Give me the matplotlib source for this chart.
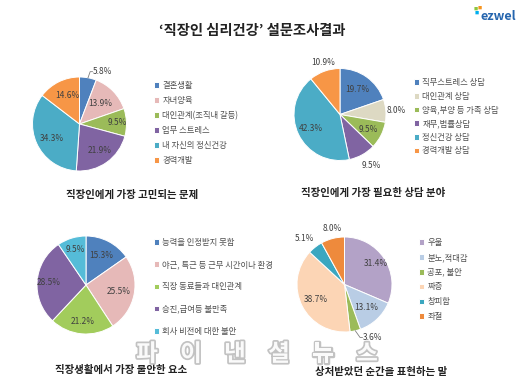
import numpy as np
import matplotlib
matplotlib.use("Agg")
import matplotlib.pyplot as plt
import matplotlib.patheffects as pe

plt.rcParams['font.family'] = ['Noto Sans CJK KR', 'DejaVu Sans']

# ---------------- data ----------------
title = "‘직장인 심리건강’ 설문조사결과"

c1_title = "직장인에게 가장 고민되는 문제"
c1_labels = ["결혼생활", "자녀양육", "대인관계(조직내 갈등)", "업무 스트레스", "내 자신의 정신건강", "경력개발"]
c1_values = [5.8, 13.9, 9.5, 21.9, 34.3, 14.6]

c2_title = "직장인에게 가장 필요한 상담 분야"
c2_labels = ["직무스트레스 상담", "대인관계 상담", "양육,부양 등 가족 상담", "재무,법률상담", "정신건강 상담", "경력개발 상담"]
c2_values = [19.7, 8.0, 9.5, 9.5, 42.3, 10.9]

c3_title = "직장생활에서 가장 불안한 요소"
c3_labels = ["능력을 인정받지 못함", "야근, 특근 등 근무 시간이나 환경", "직장 동료들과 대인관계", "승진,급여등 불만족", "회사 비전에 대한 불안"]
c3_values = [15.3, 25.5, 21.2, 28.5, 9.5]

c4_title = "상처받았던 순간을 표현하는 말"
c4_labels = ["우울", "분노,적대감", "공포, 불안", "짜증", "창피함", "좌절"]
c4_values = [31.4, 13.1, 3.6, 38.7, 5.1, 8.0]

watermark = "파이낸셜뉴스"
logo = "ezwel"

# ---------------- styles ----------------
W, H = 530, 387
fig = plt.figure(figsize=(W / 100, H / 100), dpi=100)
fig.patch.set_facecolor("white")

BLUE, PINK, GREEN, PURPLE, CYAN, ORANGE = "#4F81BD", "#E6B9B8", "#9BBB59", "#8064A2", "#4BACC6", "#F79646"
TAN = "#DDD9C3"
c1_colors = [BLUE, PINK, GREEN, PURPLE, CYAN, ORANGE]
c2_colors = [BLUE, TAN, GREEN, PURPLE, CYAN, ORANGE]
c3_colors = [BLUE, PINK, "#A2CC5C", PURPLE, "#55BCD8"]
c4_colors = ["#B3A2C7", "#B9CDE5", GREEN, "#FCD5B5", "#3BA7C0", "#EE8A3C"]

TXT = "#404040"


def fx(px):
    return px / W


def fy(py):
    return 1 - py / H


def pie_chart(values, colors, cx, cy, r, lab_specs):
    """lab_specs: list of (radius_fraction, angle_offset_deg, leader)"""
    k = 1.7
    ax = fig.add_axes([fx(cx - k * r), fy(cy + k * r), 2 * k * r / W, 2 * k * r / H])
    wedges, _ = ax.pie(values, colors=colors, startangle=90, counterclock=False, radius=1,
                       wedgeprops=dict(edgecolor="white", linewidth=0.7))
    ax.set_xlim(-k, k)
    ax.set_ylim(-k, k)
    ax.set_aspect("equal")
    ax.axis("off")
    tot = sum(values)
    cum = 0
    for v, (rf, dth, leader) in zip(values, lab_specs):
        mid = 90 - (cum + v / 2) / tot * 360
        cum += v
        th = np.deg2rad(mid + dth)
        tx, ty = rf * np.cos(th), rf * np.sin(th)
        s = f"{v:.1f}%"
        if leader:
            m = np.deg2rad(mid)
            ex, ey = np.cos(m), np.sin(m)
            ax.plot([ex, tx - 0.06, tx - 0.01], [ey, ty, ty], color="#7f7f7f", lw=0.6,
                    clip_on=False)
            ax.text(tx, ty, s, ha="left", va="center", fontsize=6, color=TXT)
        else:
            ax.text(tx, ty, s, ha="center", va="center", fontsize=6, color=TXT)
    return ax, wedges


def legend(ax, wedges, labels, x, y, spacing):
    ax.legend(wedges, labels, loc="upper left", bbox_to_anchor=(fx(x), fy(y)),
              bbox_transform=fig.transFigure, frameon=False, fontsize=6,
              labelcolor="#505050", labelspacing=spacing, handlelength=0.65,
              handleheight=0.65, handletextpad=0.35, borderpad=0, borderaxespad=0)


# chart 1
ax1, w1 = pie_chart(c1_values, c1_colors, 79.5, 124, 47,
                    [(1.15, -4, True), (0.62, 0, False), (0.8, 0, False),
                     (0.7, 2, False), (0.66, 3, False), (0.67, -3, False)])
legend(ax1, w1, c1_labels, 154, 81, 0.72)
fig.text(fx(132), fy(195), c1_title, ha="center", va="center", fontsize=7.5,
         fontweight="bold", color="#222222")

# chart 2
ax2, w2 = pie_chart(c2_values, c2_colors, 340, 114.5, 46,
                    [(0.66, 0, False), (1.22, 0, False), (0.7, 0, False),
                     (1.3, 3, False), (0.7, 0, False), (1.18, -2, False)])
legend(ax2, w2, c2_labels, 414, 78, 0.56)
fig.text(fx(373), fy(193), c2_title, ha="center", va="center", fontsize=7.5,
         fontweight="bold", color="#222222")

# chart 3
ax3, w3 = pie_chart(c3_values, c3_colors, 86, 285, 49,
                    [(0.69, 0, False), (0.67, 0, False), (0.74, 0, False),
                     (0.76, 0, False), (0.75, 0, False)])
legend(ax3, w3, c3_labels, 154, 238, 1.58)
fig.text(fx(121), fy(370), c3_title, ha="center", va="center", fontsize=7.5,
         fontweight="bold", color="#222222")

# chart 4
ax4, w4 = pie_chart(c4_values, c4_colors, 344.5, 284.5, 47.5,
                    [(0.8, 0, False), (0.67, 0, False), (1.18, 6, True),
                     (0.68, 0, False), (1.27, 3, False), (1.2, -2, False)])
legend(ax4, w4, c4_labels, 419, 238, 0.7)
fig.text(fx(381), fy(372), c4_title, ha="center", va="center", fontsize=7.5,
         fontweight="bold", color="#222222")

# main title
fig.text(fx(252), fy(31), title, ha="center", va="center", fontsize=10.3,
         fontweight="bold", color="#222222")

# logo
fig.text(fx(498), fy(16), logo, ha="center", va="center", fontsize=9,
         fontweight="bold", color="#2565AE")
fig.text(fx(476), fy(9), "■", ha="center", va="center", fontsize=3, color="#8DC63F")
fig.text(fx(480), fy(8), "■", ha="center", va="center", fontsize=3, color="#F7941D")
fig.text(fx(477), fy(13), "■", ha="center", va="center", fontsize=3, color="#00AEEF")

# watermark
n = len(watermark)
x0, x1 = 147, 367
for i, ch in enumerate(watermark):
    xc = x0 + (x1 - x0) * i / (n - 1)
    fig.text(fx(xc), fy(354), ch, ha="center", va="center", fontsize=17,
             fontweight="bold", color="white", alpha=0.92, zorder=10,
             path_effects=[pe.withStroke(linewidth=2.5, foreground="#bdbdbd")])

fig.savefig("out.png", dpi=100, facecolor="white")
